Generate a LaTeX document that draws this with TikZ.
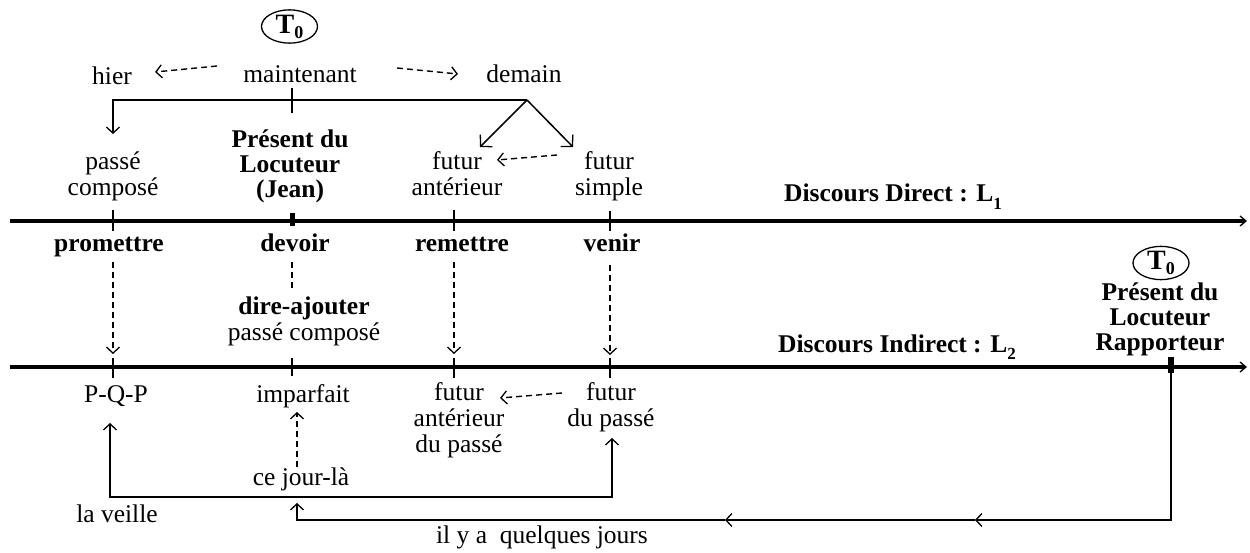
\documentclass[tikz,border=0pt]{standalone}
\usepackage{fontspec}
\setmainfont{Liberation Serif}
\usetikzlibrary{arrows.meta,shapes.geometric}
\newcommand\mysub[1]{\raisebox{-0.28em}{\fontsize{17}{17}\selectfont\bfseries #1}}
\newcommand\tzerotext{{\fontsize{28}{28}\selectfont\bfseries T}\raisebox{-5pt}{\fontsize{18}{18}\selectfont\bfseries 0}}
\begin{document}
\begin{tikzpicture}[x=1pt,y=-1pt,
  every node/.style={inner sep=0pt, outer sep=0pt, font=\fontsize{25.5}{26}\selectfont},
  lbl/.style={anchor=base, align=center},
  blbl/.style={anchor=base, align=center, font=\fontsize{25.5}{25}\selectfont\bfseries},
  thinln/.style={line width=1.5pt},
  axis/.style={line width=3.3pt, -{Straight Barb[length=6pt,width=10pt,line width=1.3pt]}},
  barb/.style={-{Straight Barb[length=6pt,width=13pt,line width=1.3pt]}},
  bigbarb/.style={-{Straight Barb[length=8pt,width=17pt,line width=1.3pt]}},
  barbboth/.style={{Straight Barb[length=6pt,width=13pt,line width=1.3pt]}-{Straight Barb[length=6pt,width=13pt,line width=1.3pt]}},
  dsh/.style={line width=1.4pt, dash pattern=on 6pt off 4pt},
  tzero/.style={ellipse, draw, line width=1.3pt, minimum width=56pt, minimum height=33pt, inner sep=0pt}
]
\fill[white] (0,0) rectangle (1250,553);
\useasboundingbox (0,0) rectangle (1250,553);

% ---- top part (base anchor = baseline of the last line)
\node[tzero] (t1) at (289.5,26.5) {\tzerotext};
\node[lbl] (hier) at (112,85) {hier};
\node[lbl] (maint) at (300,83) {maintenant};
\node[lbl] (dem) at (524,83) {demain};
\coordinate (h1) at (217,66); \coordinate (h2) at (155,72);
\coordinate (d1) at (397,68); \coordinate (d2) at (458,74);
\draw[dsh,barb] (h1) -- (h2);
\draw[dsh,barb] (d1) -- (d2);

\coordinate (jn) at (527,100);
\coordinate (hl) at (113,100);
\coordinate (pctip) at (113,134);
\draw[thinln,barb] (jn) -- (hl) -- (pctip);
\coordinate (mt1) at (292,88); \coordinate (mt2) at (292,113);
\draw[thinln] (mt1) -- (mt2);
\coordinate (fatip) at (480,147); \coordinate (fstip) at (573,147);
\draw[thinln,bigbarb] (jn) -- (fatip);
\draw[thinln,bigbarb] (jn) -- (fstip);

\node[lbl] (pc) at (113,196) {passé\\composé};
\node[blbl] (pdl) at (290,198) {Présent du\\Locuteur\\(Jean)};
\node[lbl] (fa) at (457,196) {futur\\antérieur};
\node[lbl] (fs) at (609,196) {futur\\simple};
\coordinate (f1) at (557,155); \coordinate (f2) at (497,160);
\draw[dsh,barb] (f1) -- (f2);

% ---- L1 axis
\coordinate (l1a) at (10,221); \coordinate (l1b) at (1247,221);
\draw[axis] (l1a) -- (l1b);
\draw[thinln] (113,210) -- (113,231);
\draw[thinln] (454,210) -- (454,231);
\draw[thinln] (610,211) -- (610,231);
\fill (289.5,213) rectangle (295,226);
\node[blbl] (dd) at (893,202) {Discours Direct : L\mysub{1}};

% ---- verbs
\node[blbl] (prom) at (109,252) {promettre};
\node[blbl] (dev) at (295,252) {devoir};
\node[blbl] (rem) at (462,252) {remettre};
\node[blbl] (ven) at (612,252) {venir};
\draw[dsh,barb] (113,262) -- (113,354);
\draw[dsh] (292,262) -- (292,290);
\draw[dsh,barb] (454,262) -- (454,354);
\draw[dsh,barb] (610,265) -- (610,355);
\node[lbl] (dire) at (304,341) {\textbf{dire-ajouter}\\passé composé};

% ---- L2 axis
\coordinate (l2a) at (10,367); \coordinate (l2b) at (1247,367);
\draw[axis] (l2a) -- (l2b);
\draw[thinln] (113,358) -- (113,378);
\draw[thinln] (292,358) -- (292,376);
\draw[thinln] (454,358) -- (454,378);
\draw[thinln] (610,358) -- (610,378);
\fill (1167.5,357) rectangle (1174,373);
\node[blbl] (di) at (897,352) {Discours Indirect : L\mysub{2}};
\node[tzero] (t2) at (1161,263) {\tzerotext};
\node[blbl] (pdlr) at (1160,350) {Présent du\\Locuteur\\Rapporteur};

% ---- below L2
\node[lbl] (pqp) at (116,402) {P-Q-P};
\node[lbl] (imp) at (303,402) {imparfait};
\node[lbl] (fap) at (459,452) {futur\\antérieur\\du passé};
\node[lbl] (fdp) at (611,426) {futur\\du passé};
\coordinate (g1) at (562,393); \coordinate (g2) at (500,398);
\draw[dsh,barb] (g1) -- (g2);
\node[lbl] (cjl) at (301,485) {ce jour-là};
\coordinate (c1) at (297,467); \coordinate (c2) at (297,412);
\draw[dsh,barb] (c1) -- (c2);

\coordinate (pqtip) at (110,423); \coordinate (fdtip) at (612,438);
\draw[thinln,barbboth] (pqtip) -- (110,497) -- (612,497) -- (fdtip);
\node[lbl] (veille) at (117,522) {la veille};

\coordinate (r0) at (1171,367); \coordinate (m1) at (975,520);
\coordinate (m2) at (725,520); \coordinate (r3) at (297,503);
\draw[thinln,barb] (r0) |- (m1);
\draw[thinln,barb] (m1) -- (m2);
\draw[thinln,barb] (m2) -| (r3);
\node[lbl] (ilya) at (542,543) {il y a~ quelques jours};
\end{tikzpicture}
\end{document}
